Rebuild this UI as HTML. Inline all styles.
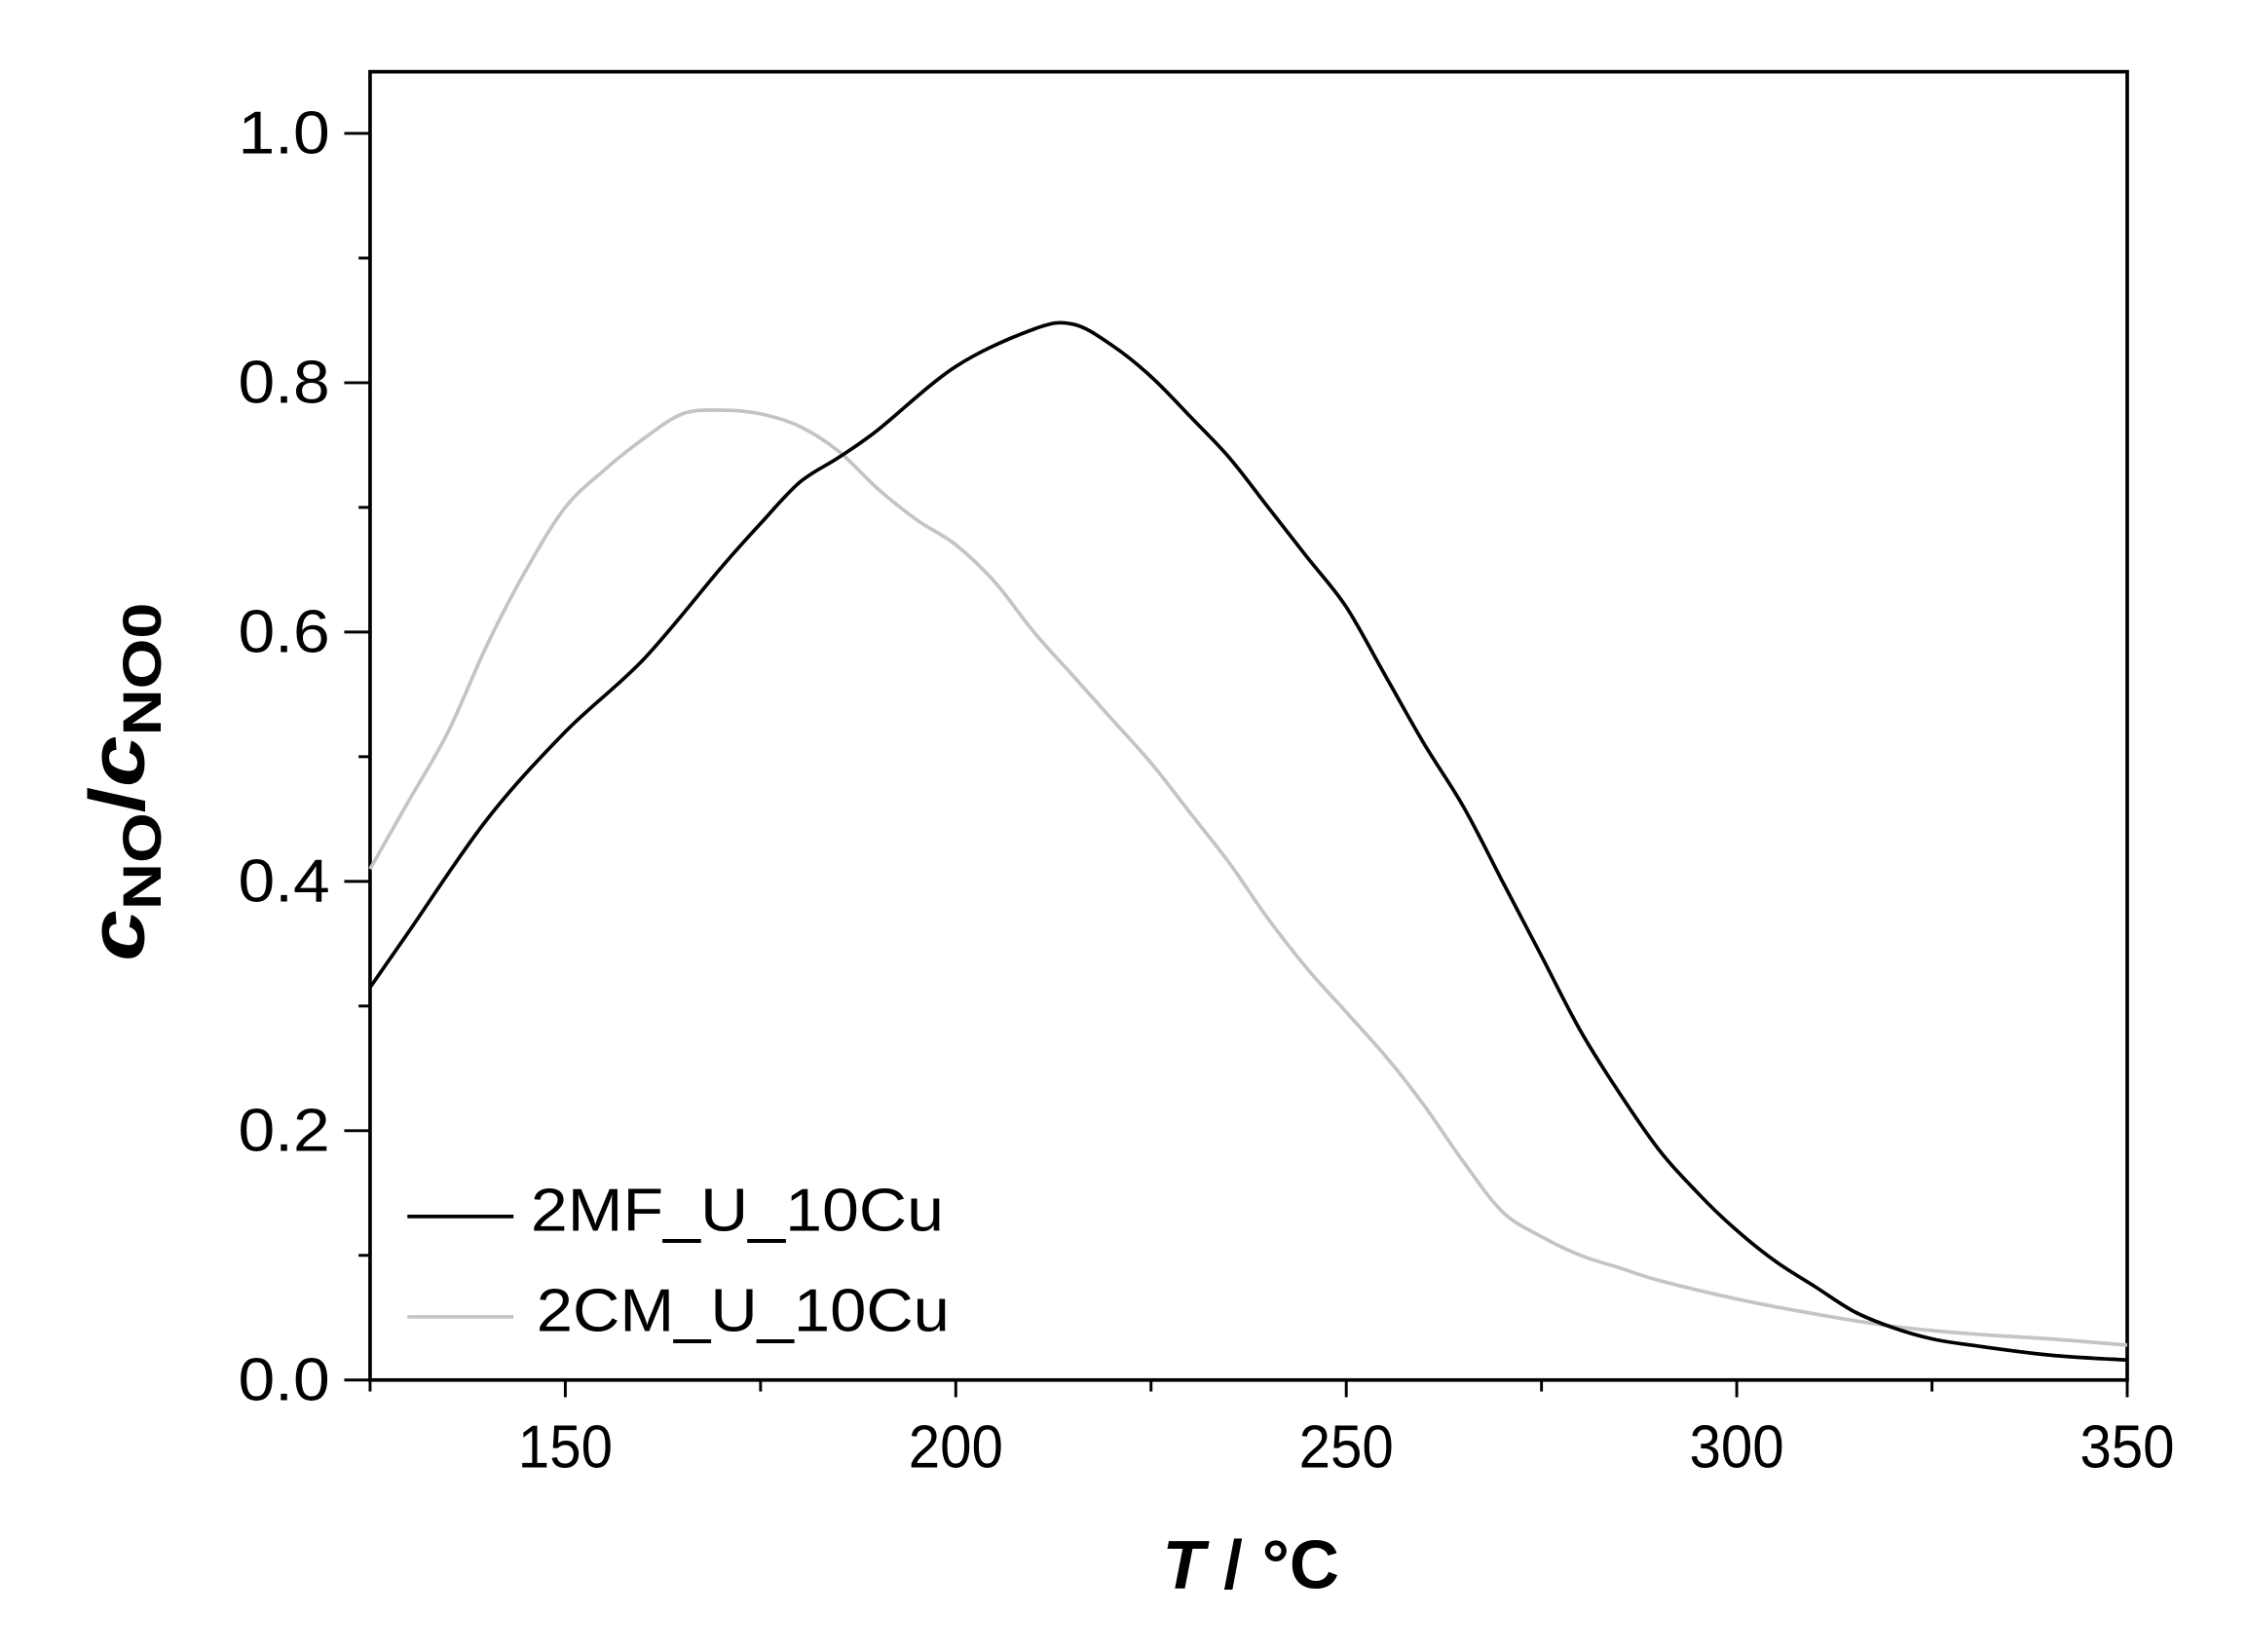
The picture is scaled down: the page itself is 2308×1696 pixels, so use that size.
<!DOCTYPE html>
<html><head><meta charset="utf-8"><style>html,body{margin:0;padding:0;background:#fff}svg{display:block}</style></head>
<body>
<svg id="chart" width="2308" height="1696" viewBox="0 0 1567.2 1151.6" preserveAspectRatio="none" xmlns="http://www.w3.org/2000/svg" font-family="'Liberation Sans', sans-serif">
<rect x="258" y="50" width="1225" height="912" fill="none" stroke="#000" stroke-width="2.5"/>
<g id="axes"></g>
<g id="series"></g>
<g>
<line x1="284" y1="848" x2="358" y2="848" stroke="#000" stroke-width="2.5"/>
<text x="370" y="858" font-size="42" textLength="288" lengthAdjust="spacingAndGlyphs">2MF_U_10Cu</text>
<line x1="284" y1="918" x2="358" y2="918" stroke="#c4c4c4" stroke-width="2.5"/>
<text x="374" y="928" font-size="42" textLength="288" lengthAdjust="spacingAndGlyphs">2CM_U_10Cu</text>
</g>
<text x="872" y="1107" font-size="48" font-weight="bold" text-anchor="middle"><tspan font-style="italic">T</tspan> / °C</text>
<text transform="translate(100,545) rotate(-90)" font-size="54" font-weight="bold" text-anchor="middle" textLength="250" lengthAdjust="spacingAndGlyphs"><tspan font-style="italic">c</tspan><tspan font-size="38" dy="12">NO</tspan><tspan dy="-12">/</tspan><tspan font-style="italic">c</tspan><tspan font-size="38" dy="12">NO0</tspan></text>
</svg>
<script>
const xTicks=[150,200,250,300,350];
const yTicks=[0.0,0.2,0.4,0.6,0.8,1.0];
const yTickLabels=["0.0","0.2","0.4","0.6","0.8","1.0"];
const tempBlack=[125,130,140,150,160,170,175,180,185,190,200,210,215,220,225,230,235,240,245,250,255,260,265,270,275,280,285,290,295,300,305,310,315,320,325,330,340,350];
const valBlack=[0.315,0.36,0.45,0.52,0.578,0.652,0.687,0.72,0.74,0.762,0.813,0.843,0.847,0.83,0.805,0.773,0.74,0.70,0.66,0.62,0.565,0.51,0.46,0.40,0.34,0.28,0.23,0.185,0.15,0.12,0.095,0.075,0.055,0.042,0.033,0.028,0.02,0.016];
const tempGrey=[125,130,135,140,145,150,155,160,165,170,175,180,185,190,195,200,205,210,215,220,225,230,235,240,245,250,255,260,265,270,275,280,285,290,300,310,320,330,340,350];
const valGrey=[0.41,0.465,0.52,0.59,0.65,0.70,0.73,0.755,0.775,0.778,0.775,0.765,0.745,0.715,0.69,0.67,0.64,0.6,0.565,0.53,0.495,0.455,0.415,0.37,0.33,0.295,0.26,0.22,0.175,0.135,0.115,0.1,0.09,0.08,0.065,0.053,0.043,0.037,0.033,0.028];
const NS="http://www.w3.org/2000/svg";
const X=t=>258+(t-125)*(1225/225);
const Y=v=>962-v*869;
const axes=document.getElementById('axes');
function mk(tag,at,parent){const e=document.createElementNS(NS,tag);for(const k in at)e.setAttribute(k,at[k]);parent.appendChild(e);return e;}
for(let t=125;t<=350;t+=25){const major=xTicks.includes(t);
const l=mk('line',{x1:X(t),x2:X(t),y1:962,y2:major?974:970,stroke:'#000','stroke-width':2},axes);

}
xTicks.forEach(t=>{const tx=mk('text',{x:X(t),y:1023,'font-size':42,'text-anchor':'middle',textLength:66,lengthAdjust:'spacingAndGlyphs'},axes);tx.textContent=String(t);

});
for(let i=0;i<=10;i++){const v=i/10;const major=i%2===0;
const l=mk('line',{x1:major?240:250,x2:258,y1:Y(v),y2:Y(v),stroke:'#000','stroke-width':2},axes);

}
yTicks.forEach((v,i)=>{const tx=mk('text',{x:230,y:Y(v)+14,'font-size':42,'text-anchor':'end',textLength:64,lengthAdjust:'spacingAndGlyphs'},axes);tx.textContent=yTickLabels[i];

});
const series=document.getElementById('series');
function line(ts,vs,color,name){
const P=ts.map((t,i)=>[X(t),Y(vs[i])]);
let d='M'+P[0][0].toFixed(1)+','+P[0][1].toFixed(1);
for(let i=0;i<P.length-1;i++){const p0=P[Math.max(0,i-1)],p1=P[i],p2=P[i+1],p3=P[Math.min(P.length-1,i+2)];
const c1=[p1[0]+(p2[0]-p0[0])/6,p1[1]+(p2[1]-p0[1])/6],c2=[p2[0]-(p3[0]-p1[0])/6,p2[1]-(p3[1]-p1[1])/6];
d+=' C'+c1.map(n=>n.toFixed(1)).join(',')+' '+c2.map(n=>n.toFixed(1)).join(',')+' '+p2.map(n=>n.toFixed(1)).join(',');}
const p=mk('path',{d:d,fill:'none',stroke:color,'stroke-width':2.5,'stroke-linejoin':'round'},series);

}
line(tempGrey,valGrey,'#c4c4c4','series-2cm-line');
line(tempBlack,valBlack,'#000','series-2mf-line');
</script>
</body></html>
